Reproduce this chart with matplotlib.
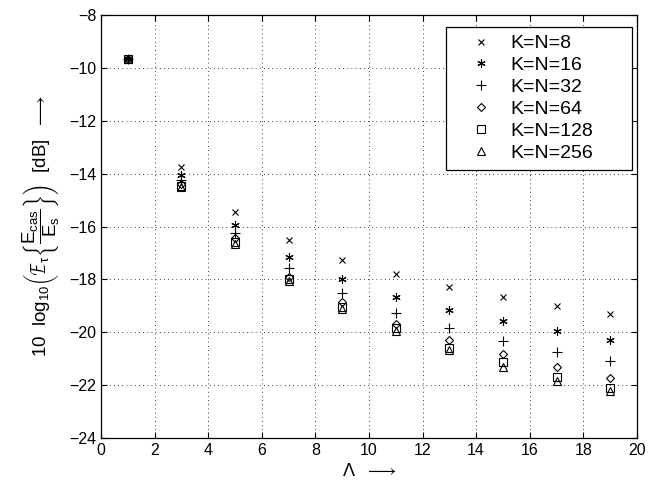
import matplotlib
matplotlib.use('Agg')
import matplotlib.pyplot as plt
import numpy as np

plt.rcParams['font.family'] = ['Liberation Sans', 'DejaVu Sans']
plt.rcParams['mathtext.fontset'] = 'custom'
plt.rcParams['mathtext.rm'] = 'Liberation Sans'
plt.rcParams['mathtext.it'] = 'Liberation Sans'

# Lambda values on the x axis
lam = [1, 3, 5, 7, 9, 11, 13, 15, 17, 19]

# error in dB per block size
kn8 = [-9.65, -13.75, -15.45, -16.5, -17.25, -17.8, -18.27, -18.65, -19.0, -19.3]
kn16 = [-9.65, -14.05, -15.95, -17.15, -18.0, -18.65, -19.15, -19.58, -19.96, -20.28]
kn32 = [-9.65, -14.25, -16.25, -17.55, -18.5, -19.26, -19.83, -20.33, -20.75, -21.1]
kn64 = [-9.65, -14.4, -16.45, -17.9, -18.86, -19.68, -20.28, -20.81, -21.3, -21.72]
kn128 = [-9.65, -14.45, -16.6, -18.0, -19.05, -19.85, -20.59, -21.13, -21.7, -22.1]
kn256 = [-9.65, -14.5, -16.65, -18.05, -19.1, -19.95, -20.66, -21.3, -21.83, -22.23]

labels = ['K=N=8', 'K=N=16', 'K=N=32', 'K=N=64', 'K=N=128', 'K=N=256']
markers = ['x', (6, 2, 0), '+', 'D', 's', '^']
sizes = [5, 6, 7, 5, 6, 6]

fig = plt.figure(figsize=(6.58, 4.83), dpi=100)
ax = fig.add_axes([0.1535, 0.093, 0.8145, 0.876])

for y, lab, m, s in zip([kn8, kn16, kn32, kn64, kn128, kn256], labels, markers, sizes):
    ms = s * 0.8 if m == 'D' else s
    ax.plot(lam, y, linestyle='none', marker=m, markersize=ms, color='black',
            markerfacecolor='none', markeredgewidth=0.8, label=lab)

ax.set_xlim(0, 20)
ax.set_ylim(-24, -8)
ax.set_xticks(np.arange(0, 21, 2))
ax.set_yticks(np.arange(-24, -7, 2))
ax.tick_params(direction='in', top=True, right=True, labelsize=11.5, length=4, width=0.8)
ax.grid(True, linestyle=(0, (1, 4)), color='black', linewidth=0.6)
for sp in ax.spines.values():
    sp.set_linewidth(0.9)

ax.set_xlabel(r'$\Lambda$  $\longrightarrow$', fontsize=13, labelpad=4)
ax.set_ylabel(r'10  log$_{10}$$\left(\mathcal{E}_{\tau}\left\{\dfrac{E_{cas}}{E_s}\right\}\right)$  [dB]  $\longrightarrow$',
              fontsize=13.5, labelpad=5)

leg = ax.legend(loc='upper left', bbox_to_anchor=(0.6437, 0, 0.347, 0.9716), mode='expand',
                fontsize=14, labelspacing=0.22, handletextpad=0.1, handlelength=2.8,
                borderpad=0.4, fancybox=False, framealpha=1, edgecolor='black',
                borderaxespad=0)
leg.get_frame().set_linewidth(0.9)

fig.savefig('out.png', dpi=100)
